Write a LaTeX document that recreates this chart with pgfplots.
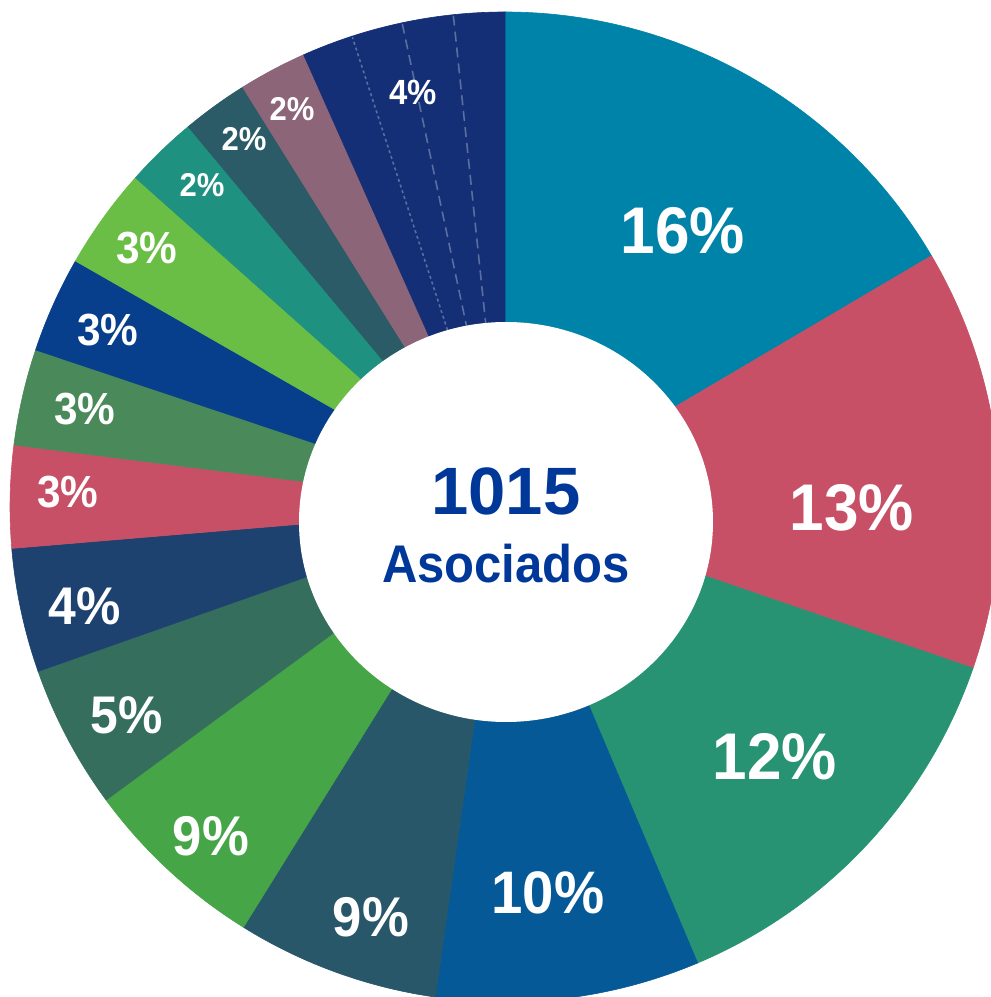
\documentclass[border=0pt]{standalone}
\usepackage{fontspec}
\setmainfont{Liberation Sans}
\newfontfamily\lblfont[FakeStretch=0.94]{Liberation Sans}
\newfontfamily\asocfont[FakeStretch=0.925]{Liberation Sans}
\usepackage{pgfplots}
\pgfplotsset{compat=1.18}

\definecolor{cA}{HTML}{0083A8}
\definecolor{cB}{HTML}{C85066}
\definecolor{cC}{HTML}{289373}
\definecolor{cD}{HTML}{055996}
\definecolor{cE}{HTML}{28576A}
\definecolor{cF}{HTML}{46A546}
\definecolor{cG}{HTML}{366E5E}
\definecolor{cH}{HTML}{1E4270}
\definecolor{cI}{HTML}{C85066}
\definecolor{cJ}{HTML}{4A8A5A}
\definecolor{cK}{HTML}{073F8D}
\definecolor{cL}{HTML}{6BBE45}
\definecolor{cM}{HTML}{1F9181}
\definecolor{cN}{HTML}{2B5B67}
\definecolor{cO}{HTML}{8D6579}
\definecolor{cP}{HTML}{142F76}
\definecolor{ctext}{HTML}{00389A}

% slice: start angle, end angle (degrees clockwise from top), colour
\newcommand{\slice}[3]{%
  \fill[#3, draw=#3, line width=0.3pt] (axis cs:505,490) -- ++({90-#1}:247.5pt)
    arc[start angle={90-#1}, end angle={90-#2}, radius=247.5pt] -- cycle;}
% label: x, y, text, size
\newcommand{\lbl}[4]{%
  \node[text=white, inner sep=0pt, font=\lblfont\bfseries\fontsize{#4}{#4}\selectfont]
    at (axis cs:#1,#2) {#3};}
\newcommand{\sep}[2]{%
  \draw[white, opacity=0.3, line width=0.8pt, #2] (axis cs:505,490) ++({90-#1}:90pt) -- ++({90-#1}:157pt);}

\begin{document}
\begin{tikzpicture}
\begin{axis}[hide axis, x=0.5pt, y=0.5pt, xmin=0, xmax=991, ymin=0, ymax=997,
  enlargelimits=false, clip=true, at={(0,0)}, anchor=south west]
\fill[white] (axis cs:0,0) rectangle (axis cs:991,997);
\slice{0}{59.5}{cA}
\slice{59.5}{109}{cB}
\slice{109}{157.1}{cC}
\slice{157.1}{188.1}{cD}
\slice{188.1}{211.9}{cE}
\slice{211.9}{233.7}{cF}
\slice{233.7}{250.6}{cG}
\slice{250.6}{265.2}{cH}
\slice{265.2}{277.2}{cI}
\slice{277.2}{288.5}{cJ}
\slice{288.5}{299.8}{cK}
\slice{299.8}{311.7}{cL}
\slice{311.7}{320.2}{cM}
\slice{320.2}{328}{cN}
\slice{328}{336}{cO}
\slice{336}{342}{cP}
\slice{342}{348}{cP}
\slice{348}{354}{cP}
\slice{354}{360}{cP}
\sep{342}{dash pattern=on 1.5pt off 1.5pt}
\sep{348}{dash pattern=on 5pt off 3pt}
\sep{354}{dash pattern=on 5pt off 3pt}
\fill[white] (axis cs:506,475) ellipse[x radius=103.5pt, y radius=100pt];
\lbl{683}{766}{16\%}{33}
\lbl{852}{489}{13\%}{33}
\lbl{775}{240}{12\%}{33}
\lbl{548}{104}{10\%}{30}
\lbl{371}{80}{9\%}{28}
\lbl{211}{161}{9\%}{28}
\lbl{127}{282}{5\%}{26.5}
\lbl{85}{391}{4\%}{26.5}
\lbl{68}{505}{3\%}{22.5}
\lbl{85}{588}{3\%}{22.5}
\lbl{108}{667}{3\%}{22.5}
\lbl{147}{749}{3\%}{22.5}
\lbl{202}{812}{2\%}{16.5}
\lbl{244}{858}{2\%}{16.5}
\lbl{292}{888}{2\%}{16.5}
\lbl{413}{905}{4\%}{17.5}
\node[text=ctext, inner sep=0pt, font=\bfseries\fontsize{33.5}{33.5}\selectfont] at (axis cs:506,506) {1015};
\node[text=ctext, inner sep=0pt, font=\asocfont\bfseries\fontsize{26.5}{26.5}\selectfont] at (axis cs:506,433) {Asociados};
\end{axis}
\pgfresetboundingbox
\path[use as bounding box] (current axis.south west) rectangle (current axis.north east);
\end{tikzpicture}
\end{document}
